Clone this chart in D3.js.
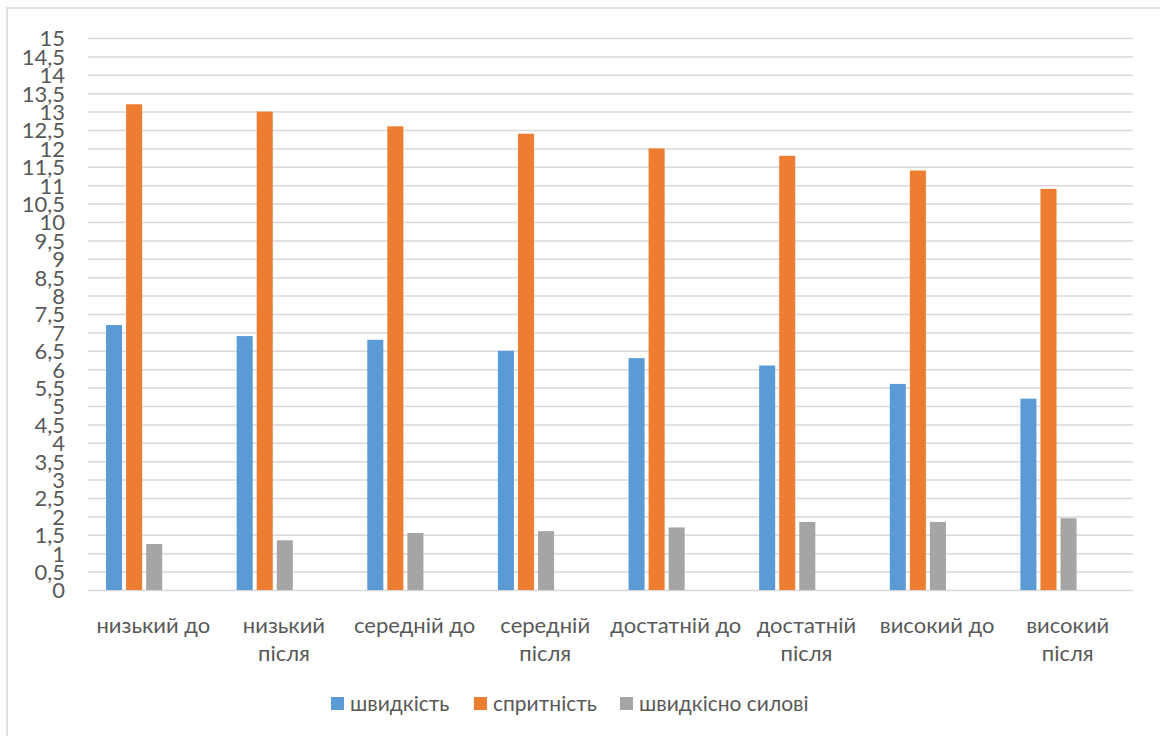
<!DOCTYPE html>
<html>
<head>
<meta charset="utf-8">
<script src="https://cdn.jsdelivr.net/npm/d3@7"></script>
<style>
  html, body { margin: 0; padding: 0; background: #ffffff; }
  svg { display: block; }
  text { font-family: Lato, "Noto Sans", sans-serif; fill: #595959; }
</style>
</head>
<body>
<svg id="chart" width="1160" height="736"></svg>
<script>
// Categories (level, before / after)
const categories = [
  "низький до", "низький після",
  "середній до", "середній після",
  "достатній до", "достатній після",
  "високий до", "високий після"
];

// Series names and values
const seriesNames = ["швидкість", "спритність", "швидкісно силові"];
const speed      = [7.2, 6.9, 6.8, 6.5, 6.3, 6.1, 5.6, 5.2];
const agility    = [13.2, 13.0, 12.6, 12.4, 12.0, 11.8, 11.4, 10.9];
const speedPower = [1.25, 1.35, 1.55, 1.6, 1.7, 1.85, 1.85, 1.95];
const seriesColors = ["#5b9bd5", "#ed7d31", "#a5a5a5"];

// Y axis ticks: 0 .. 15 every 0.5
const yTicks = d3.range(0, 15.01, 0.5);

const seriesValues = [speed, agility, speedPower];
const rows = categories.map((c, i) => ({
  category: c,
  values: seriesNames.map((s, k) => ({ key: s, value: seriesValues[k][i], color: seriesColors[k] }))
}));

const svg = d3.select("#chart");
const W = 1160, H = 736;
const plot = { left: 88, right: 1133, top: 38, bottom: 590 };

// Outer chart frame
svg.append("rect")
  .attr("x", 7).attr("y", 8)
  .attr("width", W + 10).attr("height", H + 10)
  .attr("fill", "none")
  .attr("stroke", "#d9d9d9")
  .attr("stroke-width", 1.5);

const y = d3.scaleLinear().domain([0, 15]).range([plot.bottom, plot.top]);
const x0 = d3.scaleBand().domain(categories).range([plot.left, plot.right]).padding(0);
const bw = x0.bandwidth();
const x1 = d3.scaleBand().domain(seriesNames)
  .range([bw * 0.138, bw * 0.138 + bw * 0.43])
  .paddingInner(0.2).paddingOuter(0);

// Gridlines and value labels
const yAxis = d3.axisLeft(y)
  .tickValues(yTicks)
  .tickSize(-(plot.right - plot.left))
  .tickPadding(23)
  .tickFormat(d => String(d).replace(".", ","));

const gy = svg.append("g")
  .attr("transform", `translate(${plot.left},0)`)
  .call(yAxis);
gy.select(".domain").remove();
gy.selectAll(".tick line").attr("stroke", "#d9d9d9").attr("stroke-width", 1.5);
gy.selectAll(".tick text")
  .attr("font-size", 22)
  .attr("fill", "#595959")
  .attr("dy", "0.36em");

// Bars
const groups = svg.append("g").selectAll("g")
  .data(rows)
  .join("g")
  .attr("transform", d => `translate(${x0(d.category)},0)`);

groups.selectAll("rect")
  .data(d => d.values)
  .join("rect")
  .attr("x", d => x1(d.key))
  .attr("width", x1.bandwidth())
  .attr("y", d => y(d.value))
  .attr("height", d => y(0) - y(d.value))
  .attr("fill", d => d.color);

// X axis (category labels, wrapped to band width)
const wrapWidth = bw + 5;
const xAxis = d3.axisBottom(x0).tickSize(0).tickPadding(0);
const gx = svg.append("g")
  .attr("transform", `translate(0,${plot.bottom})`)
  .call(xAxis);
gx.select(".domain").remove();
gx.selectAll(".tick text")
  .attr("font-size", 22)
  .attr("fill", "#595959")
  .attr("dy", 0)
  .attr("y", 0)
  .each(function (d) {
    const t = d3.select(this);
    const words = d.split(" ");
    t.text(null);
    const lines = [];
    let line = [];
    const probe = t.append("tspan");
    words.forEach(w => {
      const attempt = line.concat([w]).join(" ");
      probe.text(attempt);
      if (line.length && probe.node().getComputedTextLength() > wrapWidth) {
        lines.push(line.join(" "));
        line = [w];
      } else {
        line.push(w);
      }
    });
    lines.push(line.join(" "));
    probe.remove();
    lines.forEach((l, i) => {
      t.append("tspan")
        .attr("x", 0)
        .attr("y", 43 + i * 28)
        .text(l);
    });
  });

// Legend
const legendItems = [
  { key: seriesNames[0], color: seriesColors[0], x: 331 },
  { key: seriesNames[1], color: seriesColors[1], x: 474 },
  { key: seriesNames[2], color: seriesColors[2], x: 620 }
];
const lg = svg.append("g");
const li = lg.selectAll("g").data(legendItems).join("g")
  .attr("transform", d => `translate(${d.x},697)`);
li.append("rect")
  .attr("width", 13).attr("height", 13)
  .attr("fill", d => d.color);
li.append("text")
  .attr("x", 19).attr("y", 7)
  .attr("dy", "0.35em")
  .attr("font-size", 21)
  .text(d => d.key);
</script>
</body>
</html>
